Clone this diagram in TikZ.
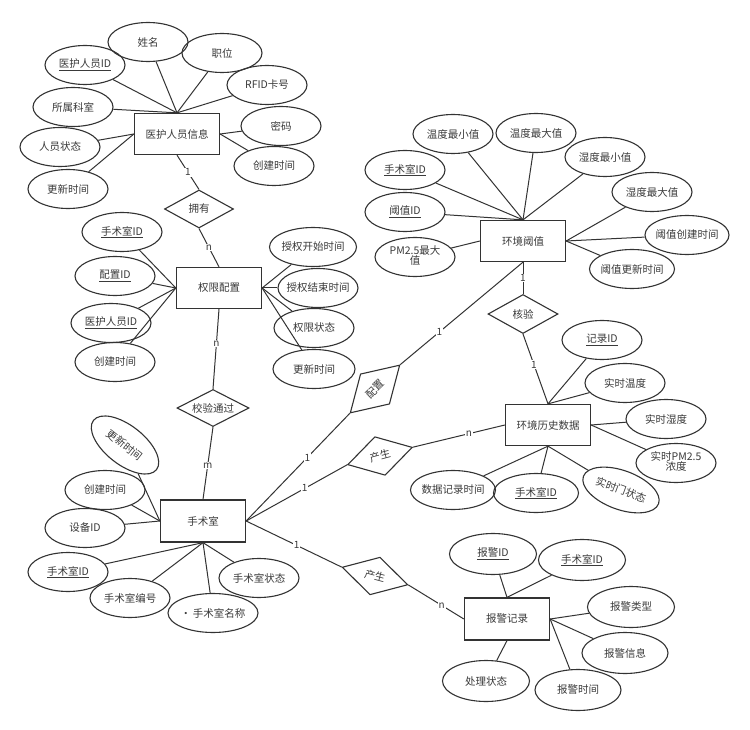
\documentclass[tikz,border=0pt]{standalone}
\usepackage{fontspec}
\setmainfont{Noto Sans CJK SC}
\usetikzlibrary{shapes.geometric}
\definecolor{lc}{HTML}{333333}
\definecolor{tc}{HTML}{3A3A3A}
\newcommand\zbox[1]{\makebox[0pt]{#1}}
\newcommand\twoline[2]{\makebox[0pt]{\begin{tabular}{@{}c@{}}#1\\[-2.5pt]#2\end{tabular}}}
\begin{document}
\begin{tikzpicture}[x=1pt,y=-1pt,
  font=\fontsize{10.5}{12.5}\selectfont, text=tc,
  ent/.style={draw=lc, line width=1.3pt, minimum width=85, minimum height=41, inner sep=0pt},
  attr/.style={ellipse, draw=lc, line width=1.1pt, minimum width=80, minimum height=39, inner sep=0pt},
  rel/.style={diamond, draw=lc, line width=1.1pt, aspect=2, minimum width=70, minimum height=37, inner sep=0pt},
  lnk/.style={draw=lc, line width=1pt},
  lbl/.style={fill=white, inner sep=0.8pt, font=\fontsize{10}{10}\selectfont}]
\useasboundingbox[fill=white] (0,0) rectangle (750,730);

% entities
\node[ent] (E1) at (177,134) {医护人员信息};
\node[ent] (E2) at (219,288) {权限配置};
\node[ent] (E3) at (523,241) {环境阈值};
\node[ent] (E4) at (548,425) {环境历史数据};
\node[ent, minimum height=42] (E5) at (203,521) {手术室};
\node[ent, minimum height=42] (E6) at (507,619) {报警记录};

% relationships
\node[rel, minimum width=69, minimum height=38] (R1) at (199,209) {\zbox{拥有}};
\node[rel, minimum width=72] (R2) at (213,408) {\zbox{校验通过}};
\node[rel, minimum height=39] (R3) at (523,314) {\zbox{核验}};
\node[rel, minimum width=69, minimum height=42, rotate=44] (R4) at (375,389) {\zbox{配置}};
\node[rel, minimum width=67, minimum height=40, rotate=15] (R5) at (380,456) {\zbox{产生}};
\node[rel, minimum width=68, minimum height=39, rotate=-15] (R6) at (375,576) {\zbox{产生}};

% attributes of E1
\node[attr] (a11) at (85,65) {\zbox{\underline{医护人员ID}}};
\node[attr] (a12) at (148,42) {\zbox{姓名}};
\node[attr] (a13) at (222,53) {\zbox{职位}};
\node[attr] (a14) at (267,85) {\zbox{RFID卡号}};
\node[attr] (a15) at (73,107) {\zbox{所属科室}};
\node[attr] (a16) at (281,126) {\zbox{密码}};
\node[attr] (a17) at (60,147) {\zbox{人员状态}};
\node[attr] (a18) at (274,166) {\zbox{创建时间}};
\node[attr] (a19) at (68,189) {\zbox{更新时间}};

% attributes of E2
\node[attr] (a21) at (122,232) {\zbox{\underline{手术室ID}}};
\node[attr] (a22) at (115,276) {\zbox{\underline{配置ID}}};
\node[attr] (a23) at (111,323) {\zbox{\underline{医护人员ID}}};
\node[attr] (a24) at (115,362) {\zbox{创建时间}};
\node[attr, minimum width=87] (a25) at (313,247) {\zbox{授权开始时间}};
\node[attr] (a26) at (318,288) {\zbox{授权结束时间}};
\node[attr] (a27) at (314,328) {\zbox{权限状态}};
\node[attr, minimum width=82] (a28) at (314,369) {\zbox{更新时间}};

% attributes of E3
\node[attr] (a31) at (453,134) {\zbox{温度最小值}};
\node[attr] (a32) at (536,133) {\zbox{温度最大值}};
\node[attr] (a33) at (605,157) {\zbox{湿度最小值}};
\node[attr] (a34) at (405,170) {\zbox{\underline{手术室ID}}};
\node[attr] (a35) at (405,212) {\zbox{\underline{阈值ID}}};
\node[attr] (a36) at (415,257) {\twoline{PM2.5最大}{值}};
\node[attr] (a37) at (652,192) {\zbox{湿度最大值}};
\node[attr, minimum width=84] (a38) at (687,235) {\zbox{阈值创建时间}};
\node[attr, minimum width=85] (a39) at (632,269) {\zbox{阈值更新时间}};

% attributes of E4
\node[attr] (a41) at (602,340) {\zbox{\underline{记录ID}}};
\node[attr] (a42) at (625,383) {\zbox{实时温度}};
\node[attr] (a43) at (666,419) {\zbox{实时湿度}};
\node[attr] (a44) at (676,463) {\twoline{实时PM2.5}{浓度}};
\node[attr, rotate=-20] (a45) at (621,490) {\zbox{实时门状态}};
\node[attr, minimum width=85] (a46) at (536,493) {\zbox{\underline{手术室ID}}};
\node[attr, minimum width=85] (a47) at (453,490) {\zbox{数据记录时间}};

% attributes of E5
\node[attr, rotate=-38] (a51) at (125,445) {\zbox{更新时间}};
\node[attr] (a52) at (105,490) {\zbox{创建时间}};
\node[attr] (a53) at (85,528) {\zbox{设备ID}};
\node[attr] (a54) at (68,572) {\zbox{\underline{手术室ID}}};
\node[attr] (a55) at (130,598) {\zbox{手术室编号}};
\node[attr, minimum width=90] (a56) at (213,613) {\zbox{•\,手术室名称}};
\node[attr] (a57) at (259,578) {\zbox{手术室状态}};

% attributes of E6
\node[attr, minimum width=87, minimum height=41] (a61) at (493,554) {\zbox{\underline{报警ID}}};
\node[attr, minimum width=87, minimum height=41] (a62) at (582,560) {\zbox{\underline{手术室ID}}};
\node[attr, minimum width=87, minimum height=41] (a63) at (631,607) {\zbox{报警类型}};
\node[attr, minimum width=86, minimum height=41] (a64) at (625,653) {\zbox{报警信息}};
\node[attr, minimum width=86, minimum height=41] (a65) at (578,690) {\zbox{报警时间}};
\node[attr, minimum width=87, minimum height=41] (a66) at (486,681) {\zbox{处理状态}};

% attribute links
\foreach \a in {a11,a12,a13,a14,a15} \draw[lnk] (\a) -- (E1.north);
\foreach \a in {a17,a19} \draw[lnk] (\a) -- (E1.west);
\foreach \a in {a16,a18} \draw[lnk] (\a) -- (E1.east);

\foreach \a in {a21,a22,a23,a24} \draw[lnk] (\a) -- (E2.west);
\foreach \a in {a25,a26,a27,a28} \draw[lnk] (\a) -- (E2.east);

\foreach \a in {a31,a32,a33,a34,a35} \draw[lnk] (\a) -- (E3.north);
\draw[lnk] (a36) -- (E3.west);
\foreach \a in {a37,a38,a39} \draw[lnk] (\a) -- (E3.east);

\foreach \a in {a41,a42} \draw[lnk] (\a) -- (E4.north);
\foreach \a in {a43,a44} \draw[lnk] (\a) -- (E4.east);
\foreach \a in {a45,a46,a47} \draw[lnk] (\a) -- (E4.south);

\foreach \a in {a51,a52,a53} \draw[lnk] (\a) -- (E5.west);
\foreach \a in {a54,a55,a56,a57} \draw[lnk] (\a) -- (E5.south);

\foreach \a in {a61,a62} \draw[lnk] (\a) -- (E6.north);
\foreach \a in {a63,a64,a65} \draw[lnk] (\a) -- (E6.east);
\draw[lnk] (a66) -- (E6.south);

% relationship links with cardinalities
\draw[lnk] (E1.south) -- node[lbl, pos=0.5] (c1) {1} (R1.north);
\draw[lnk] (R1.south) -- node[lbl, pos=0.5] (c2) {n} (E2.north);
\draw[lnk] (E2.south) -- node[lbl, pos=0.43] (c3) {n} (R2.north);
\draw[lnk] (R2.south) -- node[lbl, pos=0.53] (c4) {m} (E5.north);
\draw[lnk] (E3.south) -- node[lbl, pos=0.5] (c5) {1} (R3.north);
\draw[lnk] (R3.south) -- node[lbl, pos=0.44] (c6) {1} (E4.north);
\draw[lnk] (R4.east) -- node[lbl, pos=0.32] (c7) {1} (E3.south);
\draw[lnk] (E5.east) -- node[lbl, pos=0.59] (c8) {1} (R4.west);
\draw[lnk] (E5.east) -- node[lbl, pos=0.58] (c9) {1} (R5.west);
\draw[lnk] (R5.east) -- node[lbl, pos=0.61] (c10) {n} (E4.west);
\draw[lnk] (E5.east) -- node[lbl, pos=0.53] (c11) {1} (R6.west);
\draw[lnk] (R6.east) -- node[lbl, pos=0.6] (c12) {n} (E6.west);
\end{tikzpicture}
\end{document}
